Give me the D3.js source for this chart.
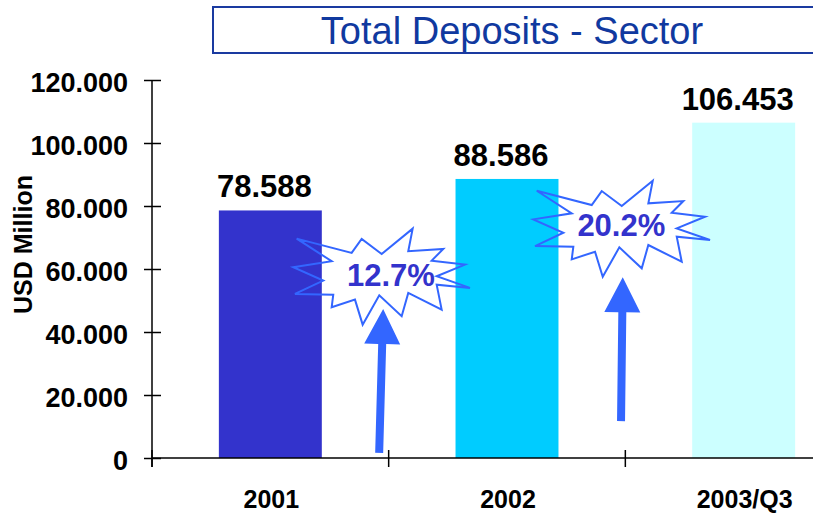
<!DOCTYPE html>
<html>
<head>
<meta charset="utf-8">
<script src="https://cdn.jsdelivr.net/npm/d3@7/dist/d3.min.js"></script>
<style>
  html, body { margin: 0; padding: 0; background: #fff; }
  svg { display: block; font-family: "Liberation Sans", Arial, sans-serif; }
</style>
</head>
<body>
<svg id="chart" width="813" height="514"></svg>
<script>
// ---- data ----
const categories = ["2001", "2002", "2003/Q3"];
const values = [78588, 88586, 106453];
const valueLabels = ["78.588", "88.586", "106.453"];
const barColors = ["#3333cc", "#00ccff", "#ccffff"];
const yTicks = [0, 20000, 40000, 60000, 80000, 100000, 120000];
const yTickLabels = ["0", "20.000", "40.000", "60.000", "80.000", "100.000", "120.000"];
const growthLabels = ["12.7%", "20.2%"];
const titleText = "Total Deposits - Sector";
const yTitle = "USD Million";

// ---- annotation placement (boundary index, y value anchors) ----
const growthStars = [
  { boundary: 1, dx: -6.7, yv: 57800, ldx: 9, ldy: -1 },
  { boundary: 2, dx: -3.3, yv: 73000, ldx: -0.7, ldy: -3.5 }
];
const growthArrows = [
  { boundary: 1, dx0: -9.5, dx1: -5.5, y0: 1600, y1: 47300 },
  { boundary: 2, dx0: -4.3, dx1: -2.6, y0: 11700, y1: 57400 }
];
// starburst outline offsets relative to its centre
const starShape = [
  [-85.3,-37.3],[-50.3,-14.7],[-88.7,-8.7],[-58.7,4.7],[-87,18],[-48.7,18.7],
  [-50.3,31.3],[-27,23.7],[-19.3,48.7],[-2.7,19.3],[19.7,40.3],[26.3,17],
  [59.7,33.7],[54.7,8.7],[88,12],[54.7,0.3],[83,-11.3],[49.7,-15.3],
  [61.3,-27],[26.3,-24.7],[30.7,-47.3],[-0.3,-22],[-20.3,-37],[-30.3,-23]
];

const svg = d3.select("#chart");

const x = d3.scaleBand().domain(categories).range([152, 862])
  .paddingInner(0.565).paddingOuter(0.2825);
const y = d3.scaleLinear().domain([0, 120000]).range([458, 80]);
const step = x.step();
const boundaryX = i => 152 + i * step;

// title box
svg.append("rect").attr("x", 213).attr("y", 7).attr("width", 640).attr("height", 46)
  .attr("fill", "none").attr("stroke", "#1a3aa0").attr("stroke-width", 2);
svg.append("text").attr("x", 512).attr("y", 44).attr("text-anchor", "middle")
  .attr("font-size", 38).attr("fill", "#10399f").text(titleText);

// bars
svg.selectAll("rect.bar").data(values).enter().append("rect")
  .attr("class", "bar")
  .attr("x", (d, i) => x(categories[i]))
  .attr("width", x.bandwidth())
  .attr("y", d => y(d))
  .attr("height", d => y(0) - y(d))
  .attr("fill", (d, i) => barColors[i]);

// value labels
svg.selectAll("text.val").data(values).enter().append("text")
  .attr("class", "val")
  .attr("x", (d, i) => x(categories[i]) + x.bandwidth() / 2 - 6)
  .attr("y", d => y(d) - 13)
  .attr("text-anchor", "middle").attr("font-weight", "bold").attr("font-size", 31)
  .attr("fill", "#000")
  .text((d, i) => valueLabels[i]);

// y axis
const yAxis = d3.axisLeft(y).tickValues(yTicks).tickSize(8).tickSizeOuter(0)
  .tickFormat((d, i) => yTickLabels[i]);
const gy = svg.append("g").attr("transform", "translate(152,0)").call(yAxis);
gy.select(".domain").remove();
gy.selectAll(".tick line").attr("x1", 9).attr("x2", -8).attr("stroke", "#000").attr("stroke-width", 1.5);
gy.selectAll(".tick text").attr("x", -24).attr("dy", null).attr("y", 11.5)
  .attr("font-size", 27).attr("font-weight", "bold").attr("fill", "#000")
  .attr("font-family", "Liberation Sans, Arial, sans-serif");
svg.append("line").attr("x1", 152).attr("x2", 152).attr("y1", y(120000)).attr("y2", 467)
  .attr("stroke", "#000").attr("stroke-width", 1.5);

// x axis
svg.append("line").attr("x1", 152).attr("x2", 813).attr("y1", y(0)).attr("y2", y(0))
  .attr("stroke", "#000").attr("stroke-width", 1.5);
svg.selectAll("line.xtick").data(d3.range(categories.length)).enter().append("line")
  .attr("class", "xtick")
  .attr("x1", i => boundaryX(i)).attr("x2", i => boundaryX(i))
  .attr("y1", y(0) - 8).attr("y2", y(0) + 9)
  .attr("stroke", "#000").attr("stroke-width", 1.5);
svg.selectAll("text.cat").data(categories).enter().append("text")
  .attr("class", "cat")
  .attr("x", d => x(d) + x.bandwidth() / 2 + 1)
  .attr("y", 508)
  .attr("text-anchor", "middle").attr("font-weight", "bold").attr("font-size", 25)
  .attr("fill", "#000").text(d => d);

// y title
svg.append("text").attr("transform", "translate(31.5,244.5) rotate(-90)")
  .attr("text-anchor", "middle").attr("font-weight", "bold").attr("font-size", 25)
  .attr("fill", "#000").text(yTitle);

// growth arrows
function arrowPath(bx, by, tx, ty) {
  const dx = tx - bx, dy = ty - by, L = Math.hypot(dx, dy);
  const ux = dx / L, uy = dy / L, nx = -uy, ny = ux;
  const hx = tx - ux * 35, hy = ty - uy * 35;
  const sw = 4, hw = 18;
  const p = [
    [bx + nx * sw, by + ny * sw], [hx + nx * sw, hy + ny * sw], [hx + nx * hw, hy + ny * hw],
    [tx, ty], [hx - nx * hw, hy - ny * hw], [hx - nx * sw, hy - ny * sw], [bx - nx * sw, by - ny * sw]
  ];
  return "M" + p.map(q => q.join(",")).join("L") + "Z";
}
svg.selectAll("path.arrow").data(growthArrows).enter().append("path")
  .attr("class", "arrow")
  .attr("d", a => arrowPath(boundaryX(a.boundary) + a.dx0, y(a.y0), boundaryX(a.boundary) + a.dx1, y(a.y1)))
  .attr("fill", "#3366ff");

// starbursts
const line = d3.line().curve(d3.curveLinearClosed);
growthStars.forEach((s, i) => {
  const cx = boundaryX(s.boundary) + s.dx, cy = y(s.yv);
  svg.append("path")
    .attr("d", line(starShape.map(p => [cx + p[0], cy + p[1]])))
    .attr("fill", "none").attr("stroke", "#3366ff").attr("stroke-width", 2)
    .attr("stroke-linejoin", "miter");
  svg.append("text").attr("x", cx + s.ldx).attr("y", cy + s.ldy + 11.5)
    .attr("text-anchor", "middle").attr("font-weight", "bold").attr("font-size", 31)
    .attr("fill", "#3333cc").text(growthLabels[i]);
});
</script>
</body>
</html>
